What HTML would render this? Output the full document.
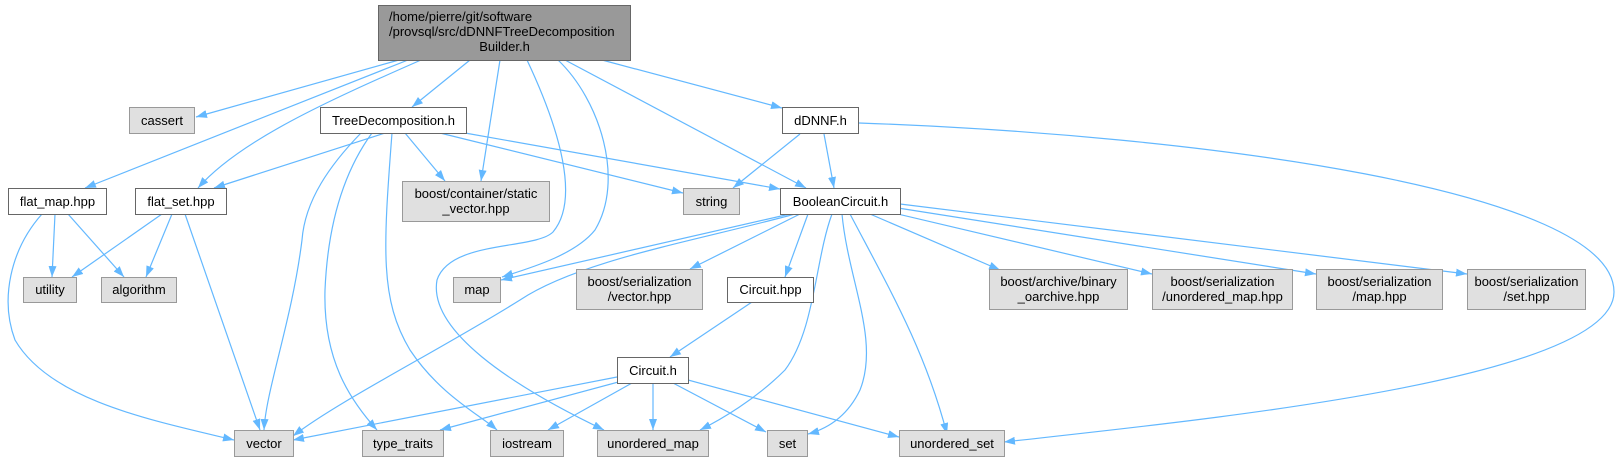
<!DOCTYPE html>
<html><head><meta charset="utf-8"><style>
html,body{margin:0;padding:0;background:#fff;}
svg{display:block;}
text{font-family:"Liberation Sans",Arial,sans-serif;font-size:13px;fill:#000;}
.e{fill:none;stroke:#63b8ff;stroke-width:1.2;}
.g{fill:#e0e0e0;stroke:#999;stroke-width:1;}
.w{fill:#fff;stroke:#666;stroke-width:1;}
</style></head><body>
<svg width="1620" height="461" viewBox="0 0 1620 461" xmlns="http://www.w3.org/2000/svg">
<defs><marker id="a" viewBox="0 0 11 8" refX="11" refY="4" markerWidth="11" markerHeight="8" markerUnits="userSpaceOnUse" orient="auto"><path d="M0,0 L11,4 L0,8 z" fill="#63b8ff"/></marker></defs>
<g class="e" marker-end="url(#a)">
<path d="M399,60 L196,117"/>
<path d="M408,60 L85,188"/>
<path d="M421,60 C330,100 240,140 198,188"/>
<path d="M470,60 L412,107"/>
<path d="M500,60 L481,181"/>
<path d="M527,60 C560,130 580,200 553,232 C535,250 450,240 437,280 C428,330 510,385 604,430"/>
<path d="M558,60 C600,100 625,180 595,230 C575,255 530,268 502,277"/>
<path d="M565,60 L806,188"/>
<path d="M602,60 L782,108"/>
<path d="M385,133 L214,188"/>
<path d="M405,133 L445,181"/>
<path d="M440,133 L683,193"/>
<path d="M465,133 L780,189"/>
<path d="M361,133 C330,165 305,200 302,240 C292,320 266,390 264,430"/>
<path d="M372,133 C345,170 328,220 325,290 C323,360 350,400 377,430"/>
<path d="M392,133 C383,250 380,300 410,350 C440,395 480,415 497,430"/>
<path d="M55,214 L52,277"/>
<path d="M68,214 L124,277"/>
<path d="M42,214 C10,250 0,300 15,340 C50,400 150,420 234,440"/>
<path d="M162,214 L72,277"/>
<path d="M172,214 L146,277"/>
<path d="M185,214 L260,430"/>
<path d="M800,134 L733,188"/>
<path d="M824,134 L834,188"/>
<path d="M859,123 C1200,135 1614,190 1614,292 C1614,380 1200,420 1004,442"/>
<path d="M790,214 L501,280"/>
<path d="M795,214 C700,240 580,260 520,300 C440,350 340,400 293,436"/>
<path d="M800,214 L690,269"/>
<path d="M808,214 L785,277"/>
<path d="M832,214 C815,260 815,330 785,370 C755,400 720,420 700,430"/>
<path d="M842,214 C848,280 880,340 860,390 C848,415 830,428 808,434"/>
<path d="M850,214 C890,290 925,350 947,434"/>
<path d="M870,214 L1000,270"/>
<path d="M885,211 L1152,274"/>
<path d="M898,208 L1316,274"/>
<path d="M900,204 L1467,274"/>
<path d="M752,302 L670,357"/>
<path d="M617,377 L293,440"/>
<path d="M622,381 L440,430"/>
<path d="M632,383 L548,430"/>
<path d="M653,383 L653,430"/>
<path d="M673,383 L766,432"/>
<path d="M688,380 L899,437"/>
</g>
<rect x="378.5" y="5.5" width="252" height="55" fill="#999" stroke="#666"/>
<text x="389" y="21">/home/pierre/git/software</text>
<text x="389" y="36">/provsql/src/dDNNFTreeDecomposition</text>
<text x="504.5" y="51" text-anchor="middle">Builder.h</text>

<rect class="g" x="129.5" y="107.5" width="65" height="26"/><text x="162" y="125" text-anchor="middle">cassert</text>
<rect class="w" x="320.5" y="107.5" width="146" height="26"/><text x="393.5" y="125" text-anchor="middle">TreeDecomposition.h</text>
<rect class="w" x="782.5" y="107.5" width="76" height="26"/><text x="820.5" y="125" text-anchor="middle">dDNNF.h</text>

<rect class="w" x="8.5" y="188.5" width="98" height="26"/><text x="57.5" y="206" text-anchor="middle">flat_map.hpp</text>
<rect class="w" x="135.5" y="188.5" width="91" height="26"/><text x="181" y="206" text-anchor="middle">flat_set.hpp</text>
<rect class="g" x="402.5" y="181.5" width="147" height="40"/><text x="476" y="198" text-anchor="middle">boost/container/static</text><text x="476" y="213" text-anchor="middle">_vector.hpp</text>
<rect class="g" x="683.5" y="188.5" width="56" height="26"/><text x="711.5" y="206" text-anchor="middle">string</text>
<rect class="w" x="780.5" y="188.5" width="120" height="26"/><text x="840.5" y="206" text-anchor="middle">BooleanCircuit.h</text>

<rect class="g" x="23.5" y="277.5" width="53" height="25"/><text x="50" y="294" text-anchor="middle">utility</text>
<rect class="g" x="101.5" y="277.5" width="75" height="25"/><text x="139" y="294" text-anchor="middle">algorithm</text>
<rect class="g" x="453.5" y="277.5" width="47" height="25"/><text x="477" y="294" text-anchor="middle">map</text>
<rect class="g" x="576.5" y="269.5" width="126" height="40"/><text x="639.5" y="286" text-anchor="middle">boost/serialization</text><text x="639.5" y="301" text-anchor="middle">/vector.hpp</text>
<rect class="w" x="727.5" y="277.5" width="86" height="25"/><text x="770.5" y="294" text-anchor="middle">Circuit.hpp</text>
<rect class="g" x="989.5" y="269.5" width="138" height="40"/><text x="1058.5" y="286" text-anchor="middle">boost/archive/binary</text><text x="1058.5" y="301" text-anchor="middle">_oarchive.hpp</text>
<rect class="g" x="1152.5" y="269.5" width="140" height="40"/><text x="1222.5" y="286" text-anchor="middle">boost/serialization</text><text x="1222.5" y="301" text-anchor="middle">/unordered_map.hpp</text>
<rect class="g" x="1316.5" y="269.5" width="126" height="40"/><text x="1379.5" y="286" text-anchor="middle">boost/serialization</text><text x="1379.5" y="301" text-anchor="middle">/map.hpp</text>
<rect class="g" x="1467.5" y="269.5" width="118" height="40"/><text x="1526.5" y="286" text-anchor="middle">boost/serialization</text><text x="1526.5" y="301" text-anchor="middle">/set.hpp</text>

<rect class="w" x="617.5" y="357.5" width="71" height="26"/><text x="653" y="375" text-anchor="middle">Circuit.h</text>

<rect class="g" x="234.5" y="430.5" width="59" height="26"/><text x="264" y="448" text-anchor="middle">vector</text>
<rect class="g" x="362.5" y="430.5" width="81" height="26"/><text x="403" y="448" text-anchor="middle">type_traits</text>
<rect class="g" x="490.5" y="430.5" width="73" height="26"/><text x="527" y="448" text-anchor="middle">iostream</text>
<rect class="g" x="597.5" y="430.5" width="111" height="26"/><text x="653" y="448" text-anchor="middle">unordered_map</text>
<rect class="g" x="767.5" y="430.5" width="40" height="26"/><text x="787.5" y="448" text-anchor="middle">set</text>
<rect class="g" x="899.5" y="430.5" width="105" height="26"/><text x="952" y="448" text-anchor="middle">unordered_set</text>
</svg>
</body></html>
